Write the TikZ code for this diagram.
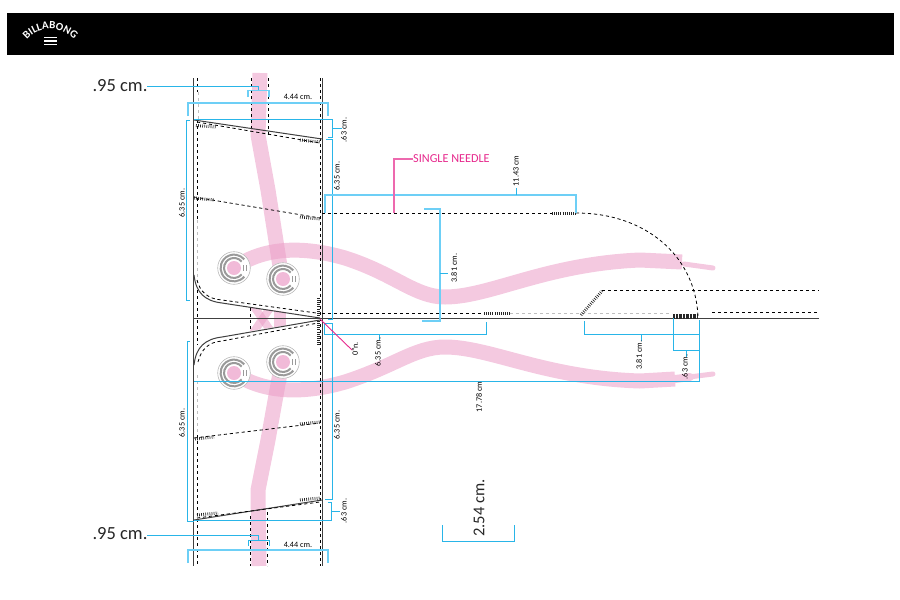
\documentclass[tikz,border=0pt]{standalone}
\usepackage{fontspec}
\setmainfont{Carlito}
\usetikzlibrary{decorations.text}
\definecolor{dimblue}{HTML}{29B5E8}
\definecolor{dimlight}{HTML}{6DCFF6}
\definecolor{needlepink}{HTML}{E6288C}
\definecolor{strappink}{HTML}{EB9DC7}
\definecolor{ringgrey}{HTML}{9A9A9A}
\tikzset{
  dim/.style={draw=dimblue,line width=0.85pt},
  dimthick/.style={draw=dimlight,line width=1.3pt},
  seam/.style={draw=black,line width=0.8pt,dash pattern=on 3.2pt off 2.8pt},
  seamgrey/.style={draw=black!25,line width=0.8pt,dash pattern=on 3.2pt off 2.8pt},
  edge/.style={draw=black!75,line width=1pt},
  stitch/.style={draw=black!85,line width=3pt,dash pattern=on 0.7pt off 1.4pt},
  strap/.style={draw=strappink,opacity=0.55,line width=15pt,line join=round},
  strapend/.style={draw=strappink!55,line width=5pt,line cap=round},
  tiny/.style={font=\fontsize{8.2}{9}\selectfont,text=black,inner sep=0pt,rotate=90},
  big/.style={font=\fontsize{18.5}{20}\selectfont,text=black!85,inner sep=0pt}
}
\newcommand{\snapring}[1]{
  \fill[white] (#1) circle (16.5);
  \draw[ringgrey!70,line width=0.6pt] (#1) circle (16.3);
  \draw[ringgrey,line width=2pt] (#1) ++(40:13.4) arc[start angle=40,end angle=320,radius=13.4];
  \draw[ringgrey,line width=2pt] (#1) ++(40:10) arc[start angle=40,end angle=320,radius=10];
  \fill[strappink!70] (#1) circle (7);
  \draw[ringgrey,line width=1pt] (#1) ++(9.5,-3) -- ++(0,6) ++(3,-6) -- ++(0,6);
}
\begin{document}
\begin{tikzpicture}[x=1pt,y=-1pt]
\useasboundingbox (0,0) rectangle (900,600);
\fill[black] (7,13) rectangle (894,55);
\path[decorate,decoration={text along path,text align=center,
  text={|\color{white}\bfseries\fontsize{11}{11}\selectfont|BILLABONG}}]
  (24,44) .. controls (34,24) and (66,24) .. (77,44);
\foreach \yy in {37.5,41,44.5}{
  \draw[white,line width=1.6pt] (44,\yy) -- (57,\yy);
}

\draw[strap] (260,73) -- (258,135) -- (268,190) -- (282,279);
\draw[strap] (234,268) .. controls (262,248) and (300,245) .. (345,258) .. controls (395,274) and (415,297) .. (445,297) .. controls (490,297) and (545,264) .. (640,260) -- (682,262);
\draw[strapend] (684,264) -- (713,268);
\draw[strap] (282,362) -- (268,440) -- (258,490) -- (259,566);
\draw[strap] (234,373) .. controls (262,392) and (300,395) .. (345,382) .. controls (395,366) and (415,347) .. (445,347) .. controls (490,347) and (545,378) .. (640,381) -- (675,379);
\draw[strapend,line width=8pt] (668,380) -- (690,377);
\draw[strapend] (685,377.5) -- (713,374);
\begin{scope}
\clip (250,307) -- (320,317) -- (320,320) -- (250,331) -- cycle;
\draw[strap,line width=8pt] (253,305) -- (272,333);
\draw[strap,line width=8pt] (272,305) -- (253,333);
\draw[strap,line width=12pt] (280,305) -- (280,333);
\end{scope}

\foreach \cx/\cy in {234/268,283/279,234/373,283/362}{
  \snapring{\cx,\cy}
}

\draw[edge] (193.5,78) -- (193.5,566);
\draw[edge] (322.5,78) -- (322.5,566);
\draw[seam] (197.5,78) -- (197.5,92);
\draw[seamgrey] (198,92) -- (198,120);
\draw[seam] (197.5,120) -- (197.5,220);
\draw[seamgrey] (197.5,220) -- (197.5,285);
\draw[seam] (197.5,290) -- (197.5,345);
\draw[seamgrey] (197.5,375) -- (197.5,435);
\draw[seam] (197.5,435) -- (197.5,566);
\draw[seam] (251.5,78) -- (251.5,130);
\draw[seam] (268,78) -- (268,135);
\draw[seam] (250.5,308) -- (250.5,331);
\draw[seam] (250,516) -- (250,566);
\draw[seam] (267.5,512) -- (267.5,566);
\draw[seam] (320,78) -- (320,566);

\draw[edge] (194,120) -- (322,139);
\draw[seam] (197,122) -- (320,143);
\draw[stitch] (196,125.5) -- (216,127);
\draw[stitch] (300,140) -- (320,142);
\draw[seam] (194,197) -- (320,218);
\draw[stitch] (194,198) -- (214,200);
\draw[stitch] (300,217) -- (320,219);
\draw[edge] (194,275) .. controls (196,293) and (205,301) .. (222,303) -- (320,318);
\draw[seam] (197,280) .. controls (200,292) and (208,299) .. (222,300) -- (320,313.5);
\draw[edge] (194,365) .. controls (196,347) and (205,339) .. (222,337) -- (320,320);
\draw[seam] (198,362) .. controls (201,350) and (208,342) .. (222,341) -- (318,323);
\draw[stitch] (318,298) -- (318,316);
\draw[stitch] (318,321) -- (318,345);
\draw[seam] (194,438) -- (320,423);
\draw[stitch] (195,439) -- (214,437);
\draw[stitch] (300,424) -- (320,422);
\draw[edge] (194,520) -- (322,500);
\draw[seam] (197,518) -- (320,502);
\draw[stitch] (197,515) -- (218,513);
\draw[stitch] (300,500) -- (320,498);

\draw[edge] (193.5,318.5) -- (819,318.5);
\draw[seam] (322,313.5) -- (483,313.5);
\draw[seamgrey] (510,313.5) -- (672,313.5);
\draw[stitch] (484,313) -- (510,313);
\draw[stitch,line width=5pt,dash pattern=on 0.8pt off 0.6pt] (673,316) -- (698,316);
\draw[seam] (712,312.5) -- (819,312.5);
\draw[seam] (322,213) -- (552,213);
\draw[stitch] (552,213) -- (576,213);
\draw[seam] (576,213) .. controls (645,213) and (695,255) .. (698,316);
\draw[seam] (602,290) -- (819,290);
\draw[stitch] (581,315) -- (602,291);

\draw[dim] (147,86) -- (258,86) -- (258,90.5);
\draw[dimthick] (248,97) -- (248,90.5) -- (269,90.5) -- (269,97);
\draw[dimthick] (188,116) -- (188,103) -- (328,103) -- (328,116);
\draw[dim] (190,120) -- (186,120) -- (186,300) -- (190,300);
\draw[dim] (194,119.5) -- (332.5,119.5) -- (332.5,137) -- (328,137);
\draw[dim] (332.5,128) -- (342,128);
\draw[dim] (326,139.5) -- (332.5,139.5) -- (332.5,319) -- (328,319);
\draw[dimthick] (325,213) -- (325,195) -- (576,195) -- (576,213);
\draw[dim] (516,195) -- (516,188);
\draw[needlepink!70,line width=1.1pt] (413,159) -- (394,159) -- (394,213);
\draw[dimthick] (424,209) -- (440,209) -- (440,321) -- (422,321);
\draw[dim] (440,273) -- (448,273);
\draw[dim] (486,322) -- (486,334) -- (324,334) -- (324,323) -- (332,323) -- (332,499) -- (325,499);
\draw[dim] (379,334) -- (379,340);
\draw[dim] (190,341) -- (187,341) -- (187,521) -- (194,521);
\draw[dim] (194,520.5) -- (331,520.5) -- (331,502) -- (328,502);
\draw[dim] (331,511) -- (340,511);
\draw[dim] (147,535) -- (258,535) -- (258,540);
\draw[dim] (248,546) -- (248,540) -- (269,540) -- (269,546);
\draw[dimthick] (188,563) -- (188,550) -- (328,550) -- (328,563);
\draw[dim] (194,381) -- (699,381) -- (699,320);
\draw[dim] (584,321) -- (584,334) -- (699,334);
\draw[dim] (641,334) -- (641,341);
\draw[dim] (673,318) -- (673,350) -- (699,350);
\draw[dim] (686,350) -- (686,357);
\draw[dim] (442,525) -- (442,541) -- (514,541) -- (514,525);
\draw[needlepink,line width=0.9pt] (320,319) -- (352,350);

\node[big] at (120,86) {.95 cm.};
\node[big] at (120,534) {.95 cm.};
\node[tiny,rotate=-90] at (298,97) {4.44 cm.};
\node[tiny,rotate=-90] at (298,545) {4.44 cm.};
\node[tiny] at (182,203) {6.35 cm.};
\node[tiny] at (182,423) {6.35 cm.};
\node[tiny] at (337,176) {6.35 cm.};
\node[tiny] at (337,425) {6.35 cm.};
\node[tiny] at (378,352) {6.35 cm.};
\node[tiny] at (344,130) {.63 cm.};
\node[tiny] at (344,511) {.63 cm.};
\node[tiny] at (516,171) {11.43 cm};
\node[tiny] at (454,268) {3.81 cm.};
\node[tiny] at (479,397) {17.78 cm};
\node[tiny] at (639,355) {3.81 cm.};
\node[tiny] at (685,367) {.63 cm.};
\node[tiny] at (355,349) {0"n.};
\node[font=\fontsize{12.2}{13}\selectfont,text=needlepink,inner sep=0pt,anchor=west] at (413,159) {SINGLE NEEDLE};
\node[big,rotate=90,font=\fontsize{16.5}{18}\selectfont] at (479,508) {2.54 cm.};
\end{tikzpicture}
\end{document}
